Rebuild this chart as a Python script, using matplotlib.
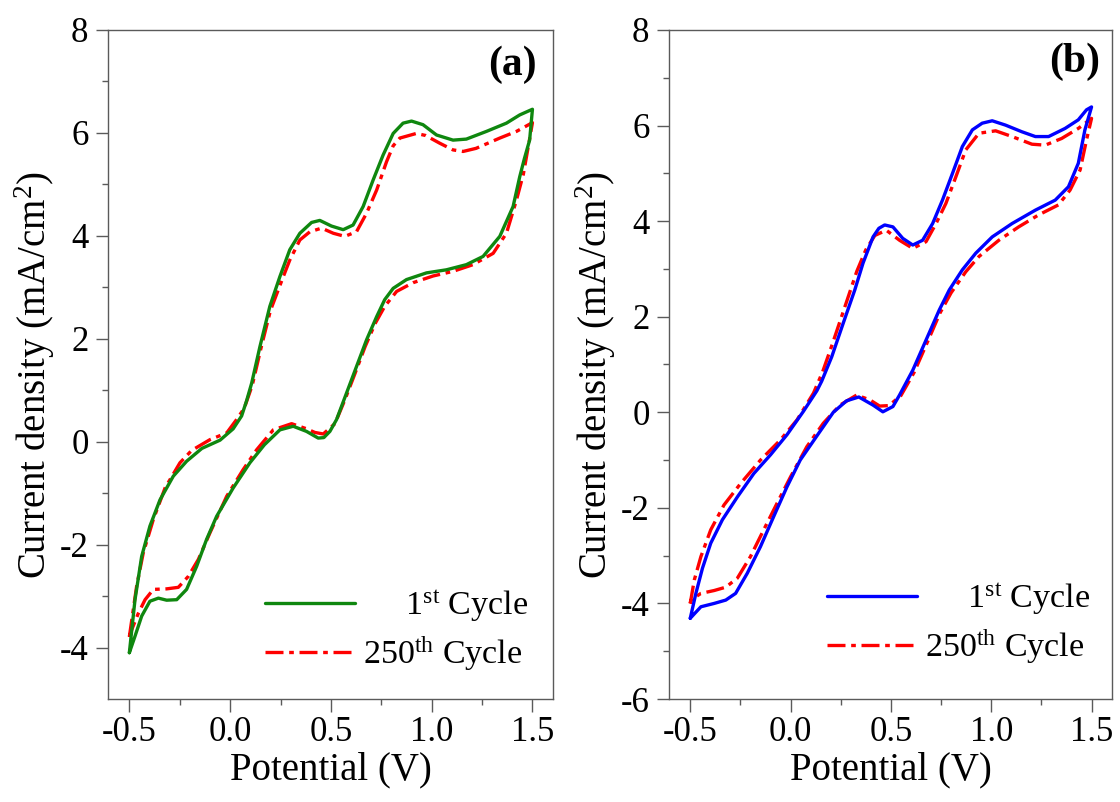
import matplotlib
matplotlib.use("Agg")
import matplotlib.pyplot as plt

# ---------------- data ----------------
# Panel (a) 1st cycle: anodic (forward) sweep then cathodic (reverse) sweep
a1_fwd_v = [-0.5, -0.472, -0.439, -0.398, -0.348, -0.282, -0.216, -0.14, -0.05, 0.015, 0.057, 0.082,
            0.107, 0.148, 0.197, 0.247, 0.296, 0.346, 0.404, 0.445, 0.503, 0.561, 0.61, 0.66, 0.71,
            0.759, 0.809, 0.858, 0.9, 0.957, 1.024, 1.106, 1.172, 1.272, 1.371, 1.437, 1.5]
a1_fwd_i = [-4.1, -3.07, -2.23, -1.64, -1.13, -0.67, -0.38, -0.13, 0.03, 0.25, 0.5, 0.8,
            1.14, 1.85, 2.63, 3.21, 3.73, 4.05, 4.26, 4.3, 4.19, 4.12, 4.21, 4.57, 5.09,
            5.57, 5.99, 6.19, 6.23, 6.16, 5.96, 5.86, 5.88, 6.03, 6.19, 6.35, 6.46]
a1_rev_v = [1.5, 1.486, 1.46, 1.437, 1.404, 1.338, 1.255, 1.172, 1.073, 0.974, 0.875, 0.809, 0.767,
            0.727, 0.677, 0.627, 0.578, 0.528, 0.495, 0.465, 0.437, 0.379, 0.313, 0.247, 0.17, 0.098,
            0.015, -0.067, -0.117, -0.166, -0.216, -0.265, -0.315, -0.356, -0.398, -0.439, -0.472, -0.5]
a1_rev_i = [6.46, 5.86, 5.5, 5.15, 4.57, 3.99, 3.6, 3.44, 3.34, 3.28, 3.15, 2.98, 2.76,
            2.43, 1.98, 1.46, 0.95, 0.43, 0.2, 0.08, 0.07, 0.2, 0.3, 0.23, -0.06, -0.41,
            -0.9, -1.45, -1.9, -2.42, -2.87, -3.07, -3.08, -3.04, -3.1, -3.39, -3.78, -4.1]

# Panel (a) 250th cycle
a250_fwd_v = [-0.5, -0.464, -0.431, -0.381, -0.323, -0.249, -0.191, -0.1, -0.017, 0.032, 0.07, 0.11,
              0.155, 0.2, 0.264, 0.296, 0.346, 0.396, 0.454, 0.512, 0.569, 0.627, 0.677, 0.727, 0.776,
              0.809, 0.842, 0.924, 0.97, 1.04, 1.106, 1.156, 1.22, 1.338, 1.421, 1.5]
a250_fwd_i = [-3.79, -2.81, -2.16, -1.51, -0.9, -0.41, -0.17, 0.04, 0.17, 0.43, 0.65, 1.1,
              1.85, 2.55, 3.21, 3.53, 3.92, 4.08, 4.15, 4.05, 3.99, 4.08, 4.44, 4.89, 5.44,
              5.75, 5.9, 5.99, 5.95, 5.8, 5.67, 5.64, 5.7, 5.9, 6.03, 6.2]
a250_rev_v = [1.5, 1.48, 1.455, 1.421, 1.371, 1.305, 1.205, 1.106, 1.007, 0.908, 0.826, 0.767, 0.72,
              0.67, 0.62, 0.57, 0.52, 0.462, 0.42, 0.38, 0.305, 0.214, 0.131, 0.065, -0.017, -0.1,
              -0.158, -0.208, -0.257, -0.315, -0.381, -0.422, -0.455, -0.488, -0.5]
a250_rev_i = [6.2, 5.75, 5.2, 4.7, 4.05, 3.66, 3.44, 3.31, 3.22, 3.09, 2.92, 2.63, 2.3,
              1.85, 1.33, 0.82, 0.35, 0.15, 0.18, 0.25, 0.35, 0.23, -0.16, -0.54, -1.06, -1.77,
              -2.29, -2.62, -2.83, -2.86, -2.87, -3.07, -3.33, -3.65, -3.79]

# Panel (b) 1st cycle
b1_fwd_v = [-0.5, -0.472, -0.439, -0.398, -0.34, -0.265, -0.183, -0.1, -0.018, 0.064, 0.131, 0.155,
            0.205, 0.262, 0.32, 0.361, 0.411, 0.44, 0.469, 0.51, 0.559, 0.609, 0.658, 0.708, 0.757,
            0.807, 0.856, 0.906, 0.955, 1.005, 1.071, 1.153, 1.22, 1.286, 1.368, 1.434, 1.475, 1.5]
b1_fwd_i = [-4.31, -3.79, -3.26, -2.74, -2.25, -1.77, -1.28, -0.89, -0.47, 0.02, 0.45, 0.65,
            1.16, 1.86, 2.56, 3.12, 3.67, 3.85, 3.92, 3.88, 3.64, 3.5, 3.6, 3.95, 4.44,
            5.0, 5.56, 5.91, 6.05, 6.1, 6.01, 5.87, 5.77, 5.77, 5.94, 6.12, 6.33, 6.39]
b1_rev_v = [1.5, 1.467, 1.434, 1.385, 1.319, 1.22, 1.104, 1.005, 0.923, 0.856, 0.791, 0.741, 0.675,
            0.609, 0.543, 0.51, 0.46, 0.411, 0.34, 0.279, 0.213, 0.14, 0.048, -0.018, -0.084, -0.15,
            -0.216, -0.274, -0.323, -0.381, -0.447, -0.5]
b1_rev_i = [6.39, 5.91, 5.21, 4.72, 4.44, 4.23, 3.95, 3.67, 3.33, 2.98, 2.56, 2.14, 1.51,
            0.88, 0.36, 0.12, 0.01, 0.15, 0.32, 0.24, 0.0, -0.44, -1.0, -1.56, -2.18, -2.81,
            -3.37, -3.79, -3.93, -4.0, -4.07, -4.31]

# Panel (b) 250th cycle
b250_fwd_v = [-0.5, -0.48, -0.447, -0.398, -0.332, -0.249, -0.15, -0.051, 0.032, 0.114, 0.16, 0.21,
              0.27, 0.33, 0.375, 0.42, 0.477, 0.543, 0.609, 0.675, 0.725, 0.774, 0.824, 0.873, 0.939,
              1.022, 1.104, 1.203, 1.269, 1.351, 1.434, 1.5]
b250_fwd_i = [-4.0, -3.51, -3.02, -2.46, -1.94, -1.49, -1.0, -0.58, -0.16, 0.4, 0.85, 1.45,
              2.2, 2.95, 3.4, 3.7, 3.81, 3.6, 3.43, 3.57, 3.95, 4.37, 4.93, 5.49, 5.84,
              5.89, 5.77, 5.61, 5.59, 5.73, 5.94, 6.15]
b250_rev_v = [1.5, 1.475, 1.443, 1.393, 1.335, 1.236, 1.137, 1.038, 0.939, 0.873, 0.8, 0.745, 0.68,
              0.615, 0.55, 0.49, 0.444, 0.395, 0.329, 0.246, 0.163, 0.081, 0.0, -0.067, -0.134, -0.2,
              -0.265, -0.323, -0.381, -0.447, -0.497, -0.5]
b250_rev_i = [6.15, 5.7, 5.07, 4.65, 4.34, 4.13, 3.88, 3.6, 3.26, 2.94, 2.5, 2.08, 1.45,
              0.83, 0.35, 0.14, 0.13, 0.26, 0.36, 0.15, -0.23, -0.72, -1.35, -1.9, -2.46, -3.02,
              -3.47, -3.66, -3.73, -3.79, -3.93, -4.0]

legend_labels = ["     1$^{\\mathrm{st}}$ Cycle", "250$^{\\mathrm{th}}$ Cycle"]
panel_labels = ["(a)", "(b)"]
x_label = "Potential (V)"
y_label = "Current density (mA/cm$^{2}$)"
x_ticks = [-0.5, 0.0, 0.5, 1.0, 1.5]
x_tick_labels = ["-0.5", "0.0", "0.5", "1.0", "1.5"]
y_ticks_a = [-4, -2, 0, 2, 4, 6, 8]
y_ticks_b = [-6, -4, -2, 0, 2, 4, 6, 8]

# ---------------- style ----------------
plt.rcParams["font.family"] = ["Liberation Serif", "DejaVu Serif"]
plt.rcParams["mathtext.fontset"] = "custom"
plt.rcParams["mathtext.rm"] = "Liberation Serif"
plt.rcParams["mathtext.it"] = "Liberation Serif:italic"
plt.rcParams["mathtext.bf"] = "Liberation Serif:bold"

W, H = 1120, 802
fig = plt.figure(figsize=(W / 100, H / 100), dpi=100)
ax_a = fig.add_axes([108 / W, 1 - 699 / H, 445 / W, 669 / H])
ax_b = fig.add_axes([669 / W, 1 - 699 / H, 443 / W, 669 / H])

red_dash = (5.4, 1.7, 1.4, 1.7)
lw = 2.4
spine_col = "#5a5a5a"

panels = [
    dict(ax=ax_a, col="#0f870f", first=(a1_fwd_v + a1_rev_v, a1_fwd_i + a1_rev_i),
         last=(a250_fwd_v + a250_rev_v, a250_fwd_i + a250_rev_i), ylim=(-5, 8), yticks=y_ticks_a,
         lab_xy=(0.963, 0.948), leg_xy=(0.353, 0.103)),
    dict(ax=ax_b, col="#0000ff", first=(b1_fwd_v + b1_rev_v, b1_fwd_i + b1_rev_i),
         last=(b250_fwd_v + b250_rev_v, b250_fwd_i + b250_rev_i), ylim=(-6, 8), yticks=y_ticks_b,
         lab_xy=(0.973, 0.953), leg_xy=(0.356, 0.113)),
]

for k, p in enumerate(panels):
    ax = p["ax"]
    l1, = ax.plot(*p["first"], color=p["col"], lw=lw, solid_joinstyle="round",
                  solid_capstyle="round", zorder=3)
    l2, = ax.plot(*p["last"], color="#ff0000", lw=lw, dashes=red_dash, zorder=2)
    ax.set_xlim(-0.606, 1.602)
    ax.set_ylim(*p["ylim"])
    ax.set_xticks(x_ticks)
    ax.set_xticklabels(x_tick_labels)
    ax.set_xticks([-0.25, 0.25, 0.75, 1.25], minor=True)
    ax.set_yticks(p["yticks"])
    ax.set_yticklabels([str(t) for t in p["yticks"]])
    ax.set_yticks([t + 1 for t in p["yticks"][:-1]], minor=True)
    for s in ax.spines.values():
        s.set_color(spine_col)
        s.set_linewidth(1.0)
    ax.tick_params(which="major", direction="out", length=9, width=1.0, color=spine_col,
                   labelsize=25)
    ax.tick_params(axis="x", which="major", pad=3)
    ax.tick_params(axis="y", which="major", pad=5)
    ax.tick_params(which="minor", direction="out", length=4, width=1.0, color=spine_col)
    ax.set_xlabel(x_label, fontsize=28)
    ax.set_ylabel(y_label, fontsize=28)
    ax.xaxis.set_label_coords(0.5, -0.078)
    ax.yaxis.set_label_coords(-0.115, 0.485)
    ax.text(p["lab_xy"][0], p["lab_xy"][1], panel_labels[k], transform=ax.transAxes,
            fontsize=30, fontweight="bold", ha="right", va="center")
    ax.legend([l1, l2], legend_labels, loc="center left", bbox_to_anchor=p["leg_xy"],
              frameon=False, fontsize=24.5, handlelength=2.65, handletextpad=0.24,
              labelspacing=0.3, borderpad=0.0, borderaxespad=0.0)

fig.savefig("out.png", dpi=100)
